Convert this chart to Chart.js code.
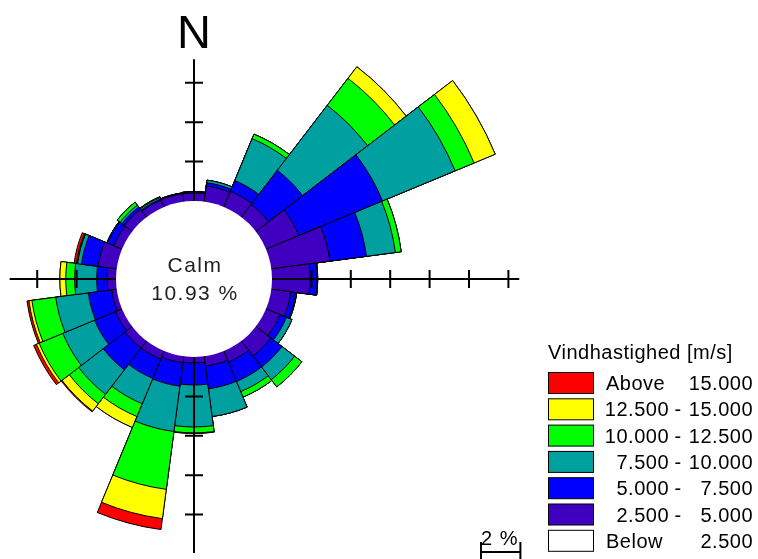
<!DOCTYPE html>
<html>
<head>
<meta charset="utf-8">
<title>Vindrose</title>
<script src="https://cdn.jsdelivr.net/npm/chart.js@4.4.0/dist/chart.umd.min.js"></script>
<style>
  html, body { margin: 0; padding: 0; background: #fff; }
  #wrap { width: 758px; height: 559px; position: relative; }
</style>
</head>
<body>
<div id="wrap"><canvas id="rose"></canvas></div>
<script>
// 24 sectors of 15 degrees, clockwise from north
var directions = ['0', '15', '30', '45', '60', '75', '90', '105', '120', '135', '150', '165',
                  '180', '195', '210', '225', '240', '255', '270', '285', '300', '315', '330', '345'];

var calmPct = 10.93;
var speedEdges = [2.5, 5, 7.5, 10, 12.5, 15];
var axisTicks = [2, 4, 6, 8, 10, 12];

// frequency (%) per sector for each speed class
var v2_5to5   = [0.40, 0.80, 0.86, 0.81, 1.80, 3.00, 1.93, 1.00, 0.76, 0.96, 0.60, 0.50,
                 0.30, 0.33, 0.45, 0.45, 0.35, 0.25, 0.45, 0.95, 0.45, 0.50, 0.38, 0.40];
var v5to7_5   = [0.05, 0.17, 0.59, 2.18, 4.60, 1.87, 0.36, 0.25, 0.36, 0.71, 1.07, 1.16,
                 1.12, 1.20, 1.05, 1.40, 1.15, 1.20, 0.53, 0.85, 0.35, 0.15, 0.06, 0.05];
var v7_5to10  = [0.03, 0.13, 2.30, 4.16, 3.99, 1.48, 0.03, 0.05, 0.30, 0.81, 0.56, 1.42,
                 2.13, 2.32, 1.40, 1.57, 1.75, 1.67, 1.12, 0.20, 0.03, 0.12, 0.08, 0.00];
var v10to12_5 = [0.00, 0.00, 0.25, 1.73, 1.04, 0.30, 0.00, 0.00, 0.00, 0.46, 0.30, 0.00,
                 0.30, 2.96, 0.70, 0.60, 1.30, 1.22, 0.45, 0.03, 0.00, 0.18, 0.04, 0.00];
var v12_5to15 = [0.00, 0.00, 0.00, 0.74, 1.16, 0.00, 0.00, 0.00, 0.00, 0.00, 0.00, 0.00,
                 0.03, 1.50, 0.60, 0.47, 0.15, 0.15, 0.30, 0.03, 0.00, 0.00, 0.00, 0.00];
var vAbove15  = [0.00, 0.00, 0.00, 0.00, 0.00, 0.00, 0.00, 0.00, 0.00, 0.00, 0.00, 0.00,
                 0.00, 0.56, 0.00, 0.05, 0.15, 0.10, 0.00, 0.12, 0.00, 0.00, 0.00, 0.00];

var classSeries = [v2_5to5, v5to7_5, v7_5to10, v10to12_5, v12_5to15, vAbove15];
var classColors = ['#4000C0', '#0000FF', '#00A0A0', '#00FF00', '#FFFF00', '#FF0000'];

function fmt(v) { return v.toFixed(3); }

// stacked rose: each dataset holds the running total, smallest on top
var running = directions.map(function () { return 0; });
var datasets = classSeries.map(function (series, k) {
  running = running.map(function (c, i) { return c + series[i]; });
  var label = k < 5 ? fmt(speedEdges[k]) + ' - ' + fmt(speedEdges[k + 1]) : 'Above ' + fmt(speedEdges[5]);
  return {
    label: label,
    data: running.slice(),
    backgroundColor: classColors[k],
    borderColor: '#000',
    borderWidth: 1,
    clip: false
  };
});

// geometry of the radial scale (calm disc radius and pixels per percent)
var calmRadiusPx = 78;
var pxPerPct = 19.7;
var drawRadius = 194;
var rMin = -calmRadiusPx / pxPerPct;
var rMax = rMin + drawRadius / pxPerPct;

var axisEnds = { n: 7.2, e: 12.55, s: 9.95, w: 5.4 };

var roseExtras = {
  id: 'roseExtras',
  afterDatasetsDraw: function (chart) {
    var ctx = chart.ctx;
    var sc = chart.scales.r;
    var cx = sc.xCenter, cy = sc.yCenter;
    var r0 = sc.getDistanceFromCenterForValue(0);
    ctx.save();

    // calm disc
    ctx.fillStyle = '#fff';
    ctx.beginPath();
    ctx.arc(cx, cy, r0, 0, Math.PI * 2);
    ctx.fill();

    // axes with percent ticks
    ctx.strokeStyle = '#000';
    ctx.lineWidth = 2;
    var dirs = [[0, -1, axisEnds.n], [1, 0, axisEnds.e], [0, 1, axisEnds.s], [-1, 0, axisEnds.w]];
    dirs.forEach(function (d) {
      var rEnd = sc.getDistanceFromCenterForValue(d[2]);
      ctx.beginPath();
      ctx.moveTo(cx + d[0] * r0, cy + d[1] * r0);
      ctx.lineTo(cx + d[0] * rEnd, cy + d[1] * rEnd);
      axisTicks.forEach(function (t) {
        if (t > d[2]) return;
        var rt = sc.getDistanceFromCenterForValue(t);
        var px = cx + d[0] * rt, py = cy + d[1] * rt;
        ctx.moveTo(px - d[1] * 9, py - d[0] * 9);
        ctx.lineTo(px + d[1] * 9, py + d[0] * 9);
      });
      ctx.stroke();
    });

    // north label
    ctx.fillStyle = '#000';
    ctx.font = '47px "Liberation Sans", Arial, sans-serif';
    ctx.textAlign = 'center';
    ctx.textBaseline = 'alphabetic';
    ctx.fillText('N', cx, 48);

    // calm text
    ctx.fillStyle = '#222';
    ctx.font = '21px "Liberation Sans", Arial, sans-serif';
    ctx.letterSpacing = '1.5px';
    ctx.fillText('Calm', cx + 1, cy - 7);
    ctx.fillText(calmPct.toFixed(2) + ' %', cx + 1, cy + 21);

    // legend
    ctx.letterSpacing = '0.5px';
    ctx.font = '20px "Liberation Sans", Arial, sans-serif';
    ctx.fillStyle = '#000';
    ctx.textAlign = 'left';
    ctx.fillText('Vindhastighed [m/s]', 548, 359);
    var rows = [];
    for (var k = datasets.length - 1; k >= 0; k--) {
      rows.push({ color: classColors[k], lo: k < 5 ? speedEdges[k] : null, hi: k < 5 ? speedEdges[k + 1] : speedEdges[5] });
    }
    rows.push({ color: '#FFFFFF', lo: null, hi: speedEdges[0], below: true });
    ctx.lineWidth = 1;
    rows.forEach(function (row, i) {
      var y = 372 + i * 26.3;
      ctx.fillStyle = row.color;
      ctx.fillRect(548.5, y + 0.5, 45, 21);
      ctx.strokeStyle = '#000';
      ctx.strokeRect(548.5, y + 0.5, 45, 21);
      ctx.fillStyle = '#000';
      var base = y + 18;
      ctx.textAlign = 'left';
      if (row.lo === null) {
        ctx.fillText(row.below ? 'Below' : 'Above', 606, base);
      } else {
        ctx.textAlign = 'right';
        ctx.fillText(fmt(row.lo), 669, base);
        ctx.textAlign = 'center';
        ctx.fillText('-', 678, base);
      }
      ctx.textAlign = 'right';
      ctx.fillText(fmt(row.hi), 753, base);
    });

    // scale bar
    var bar = sc.getDistanceFromCenterForValue(2) - r0;
    var bx = 481;
    ctx.textAlign = 'left';
    ctx.letterSpacing = '1px';
    ctx.fillText('2 %', bx, 545);
    ctx.lineWidth = 2;
    ctx.beginPath();
    ctx.moveTo(bx, 542); ctx.lineTo(bx, 559);
    ctx.moveTo(bx + bar, 542); ctx.lineTo(bx + bar, 559);
    ctx.moveTo(bx, 552); ctx.lineTo(bx + bar, 552);
    ctx.stroke();

    ctx.restore();
  }
};

new Chart(document.getElementById('rose').getContext('2d'), {
  type: 'polarArea',
  data: { labels: directions, datasets: datasets },
  options: {
    responsive: true,
    maintainAspectRatio: false,
    animation: false,
    events: [],
    layout: { padding: { left: 0, top: 0, right: 370, bottom: 1 } },
    plugins: { legend: { display: false }, tooltip: { enabled: false } },
    scales: {
      r: {
        min: rMin,
        max: rMax,
        startAngle: -7.5,
        ticks: { display: false },
        grid: { display: false },
        angleLines: { display: false },
        pointLabels: { display: false }
      }
    }
  },
  plugins: [roseExtras]
});
</script>
</body>
</html>
